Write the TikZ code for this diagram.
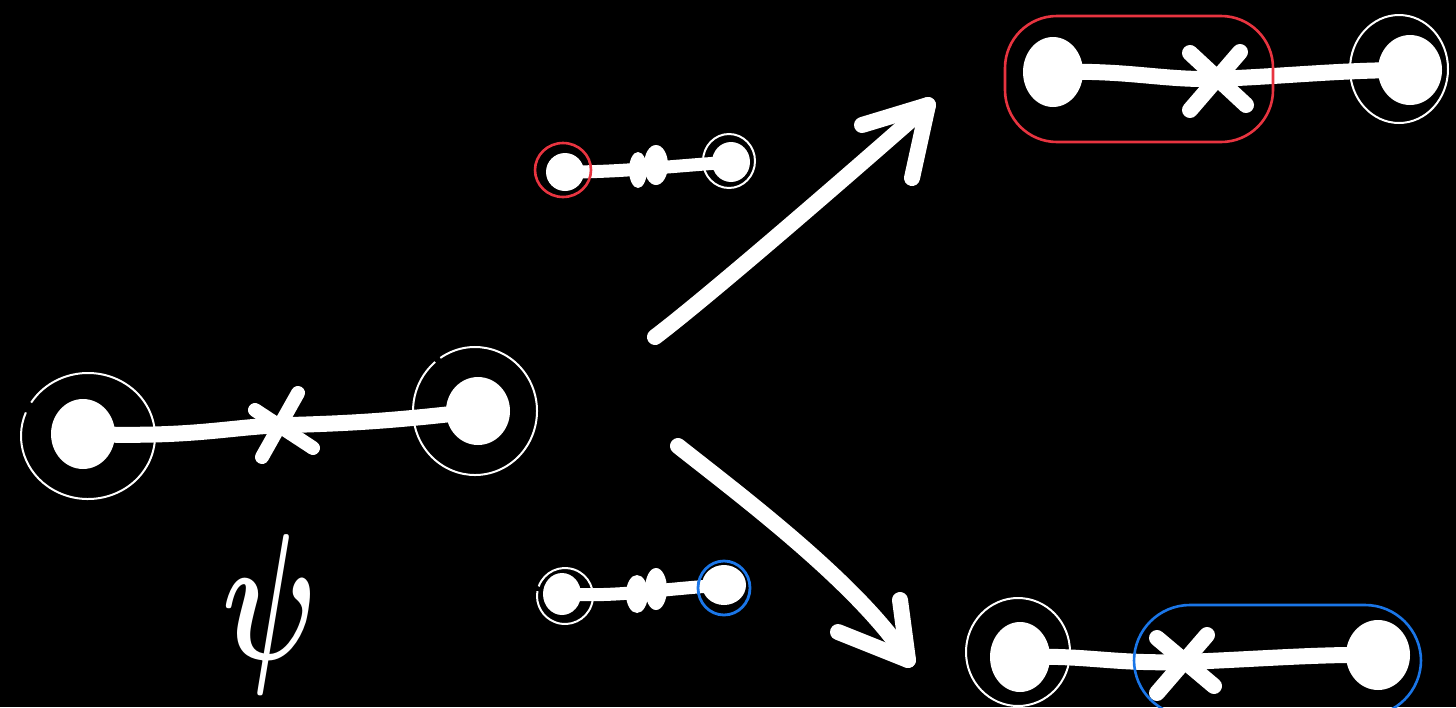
\documentclass[tikz,border=0pt]{standalone}
\usepackage{amsmath}
\usepackage{tikz}
\usetikzlibrary{positioning,shapes.geometric}
\definecolor{inkred}{RGB}{232,52,64}
\definecolor{inkblue}{RGB}{26,118,232}

\tikzset{
	blob/.style={ellipse,fill=white,inner sep=0pt},
	bar/.style={white,line width=8pt,line cap=round},
	thinbar/.style={white,line width=6.5pt,line cap=round},
	ring/.style={white,line width=1pt},
	stroke/.style={white,line width=8pt,line cap=round,line join=round},
}

\begin{document}
\begin{tikzpicture}[x=0.5pt,y=-0.5pt]
			\clip (0,0) rectangle (1456,707);
			\fill[black] (0,0) rectangle (1456,707);
			
			% left molecule
			\node[blob,minimum width=32pt,minimum height=35pt] (lA) at (83,434) {};
			\node[blob,minimum width=32pt,minimum height=34pt] (lB) at (478,411) {};
			\draw[bar] (lA.center) .. controls (200,438) and (230,426) .. (290,425) .. controls (360,423) and (400,420) .. (lB.center);
			\draw[stroke,line width=7pt] (262,457) -- (298,393);
			\draw[stroke,line width=7pt] (255,410) -- (313,448);
			\draw[ring] (lA.center) ++(5,2) ++(212:67 and 63) arc[start angle=212,end angle=562,x radius=67,y radius=63];
			\draw[ring] (lB.center) ++(-3,0) ++(236:62 and 64) arc[start angle=236,end angle=590,x radius=62,y radius=64];
			\node[white,xscale=6,yscale=9,inner sep=0pt] (psi) at (270,614) {$\boldsymbol{\psi}$};
			
			% arrows
			\coordinate (upS) at (655,337);
			\coordinate (upE) at (928,105);
			\draw[stroke] (upS) .. controls (700,303) and (820,200) .. (upE);
			\draw[stroke] (862,125) -- (upE) -- (912,178);
			\coordinate (dnS) at (678,446);
			\coordinate (dnE) at (908,660);
			\draw[stroke] (dnS) .. controls (740,495) and (860,585) .. (dnE);
			\draw[stroke] (838,632) -- (dnE) -- (900,600);
			
			% small molecule, top
			\node[blob,minimum width=19pt,minimum height=19pt] (sA) at (565,172) {};
			\node[blob,minimum width=19pt,minimum height=20pt] (sB) at (731,162) {};
			\draw[thinbar] (sA.center) .. controls (620,172) and (650,168) .. (sB.center);
			\fill[white] (638,170) ellipse [x radius=9,y radius=18];
			\fill[white] (656,165) ellipse [x radius=12,y radius=20];
			\draw[inkred,line width=1.3pt] (563,170) ellipse [x radius=28,y radius=27];
			\draw[ring] (729,161) ellipse [x radius=26,y radius=27];
			
			% small molecule, bottom
			\node[blob,minimum width=19pt,minimum height=21pt] (tA) at (562,594) {};
			\node[blob,minimum width=22pt,minimum height=20pt] (tB) at (724,585) {};
			\draw[thinbar] (tA.center) .. controls (620,597) and (650,590) .. (tB.center);
			\fill[white] (637,594) ellipse [x radius=11,y radius=19];
			\fill[white] (656,589) ellipse [x radius=11,y radius=21];
			\draw[ring] (565,596) ++(200:28 and 28) arc[start angle=200,end angle=550,x radius=28,y radius=28];
			\draw[inkblue,line width=1.4pt] (724,588) ellipse [x radius=26,y radius=27];
			
			% molecule, top right
			\node[blob,minimum width=30pt,minimum height=35pt] (rA) at (1053,72) {};
			\node[blob,minimum width=32pt,minimum height=35pt] (rB) at (1410,70) {};
			\draw[bar] (rA.center) .. controls (1130,70) and (1160,80) .. (1215,79) .. controls (1290,76) and (1340,70) .. (rB.center);
			\draw[stroke] (1190,53) -- (1246,105);
			\draw[stroke] (1190,110) -- (1240,52);
			\draw[inkred,line width=1.3pt,rounded corners=26pt] (1005,16) rectangle (1273,142);
			\draw[ring] (1399,69) ellipse [x radius=49,y radius=54];
			
			% molecule, bottom right
			\node[blob,minimum width=30pt,minimum height=35pt] (qA) at (1020,657) {};
			\node[blob,minimum width=32pt,minimum height=35pt] (qB) at (1378,655) {};
			\draw[bar] (qA.center) .. controls (1090,655) and (1110,664) .. (1185,662) .. controls (1260,659) and (1320,654) .. (qB.center);
			\draw[stroke] (1157,693) -- (1207,635);
			\draw[stroke] (1157,638) -- (1214,686);
			\draw[ring] (1018,652) ellipse [x radius=52,y radius=54];
			\draw[inkblue,line width=1.3pt,rounded corners=28pt] (1134,605) rectangle (1421,716);
		\end{tikzpicture}
\end{document}
